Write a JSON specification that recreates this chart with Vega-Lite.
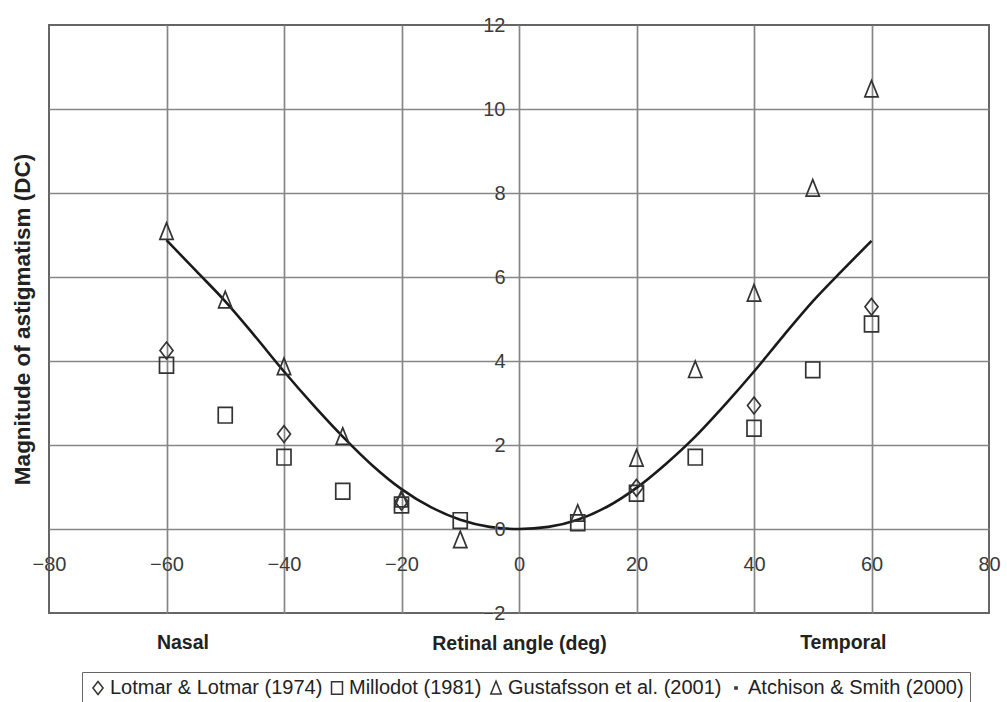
{
  "$schema": "https://vega.github.io/schema/vega-lite/v6.json",
  "width": 940,
  "height": 588,
  "autosize": {"type": "none"},
  "padding": {"left": 49, "top": 25, "right": 18, "bottom": 89},
  "background": "white",
  "config": {
    "font": "Liberation Sans",
    "view": {"stroke": "#666666", "strokeWidth": 2}
  },
  "datasets": {
    "curve": [
      {"angle": -60, "astig": 6.88}, {"angle": -55, "astig": 6.15}, {"angle": -50, "astig": 5.42},
      {"angle": -45, "astig": 4.6}, {"angle": -40, "astig": 3.75}, {"angle": -35, "astig": 2.95},
      {"angle": -30, "astig": 2.2}, {"angle": -25, "astig": 1.52}, {"angle": -20, "astig": 0.95},
      {"angle": -15, "astig": 0.52}, {"angle": -10, "astig": 0.22}, {"angle": -5, "astig": 0.05},
      {"angle": 0, "astig": 0}, {"angle": 5, "astig": 0.05}, {"angle": 10, "astig": 0.22},
      {"angle": 15, "astig": 0.53}, {"angle": 20, "astig": 0.98}, {"angle": 25, "astig": 1.55},
      {"angle": 30, "astig": 2.2}, {"angle": 35, "astig": 2.95}, {"angle": 40, "astig": 3.75},
      {"angle": 45, "astig": 4.6}, {"angle": 50, "astig": 5.42}, {"angle": 55, "astig": 6.15},
      {"angle": 60, "astig": 6.86}
    ],
    "points": [
      {"series": "Lotmar & Lotmar (1974)", "angle": -60, "astig": 4.25},
      {"series": "Lotmar & Lotmar (1974)", "angle": -40, "astig": 2.26},
      {"series": "Lotmar & Lotmar (1974)", "angle": -20, "astig": 0.65},
      {"series": "Lotmar & Lotmar (1974)", "angle": 20, "astig": 0.98},
      {"series": "Lotmar & Lotmar (1974)", "angle": 40, "astig": 2.94},
      {"series": "Lotmar & Lotmar (1974)", "angle": 60, "astig": 5.29},
      {"series": "Millodot (1981)", "angle": -60, "astig": 3.9},
      {"series": "Millodot (1981)", "angle": -50, "astig": 2.71},
      {"series": "Millodot (1981)", "angle": -40, "astig": 1.71},
      {"series": "Millodot (1981)", "angle": -30, "astig": 0.9},
      {"series": "Millodot (1981)", "angle": -20, "astig": 0.57},
      {"series": "Millodot (1981)", "angle": -10, "astig": 0.2},
      {"series": "Millodot (1981)", "angle": 10, "astig": 0.15},
      {"series": "Millodot (1981)", "angle": 20, "astig": 0.85},
      {"series": "Millodot (1981)", "angle": 30, "astig": 1.71},
      {"series": "Millodot (1981)", "angle": 40, "astig": 2.4},
      {"series": "Millodot (1981)", "angle": 50, "astig": 3.79},
      {"series": "Millodot (1981)", "angle": 60, "astig": 4.88},
      {"series": "Gustafsson et al. (2001)", "angle": -60, "astig": 7.08},
      {"series": "Gustafsson et al. (2001)", "angle": -50, "astig": 5.45},
      {"series": "Gustafsson et al. (2001)", "angle": -40, "astig": 3.86},
      {"series": "Gustafsson et al. (2001)", "angle": -30, "astig": 2.2},
      {"series": "Gustafsson et al. (2001)", "angle": -20, "astig": 0.71},
      {"series": "Gustafsson et al. (2001)", "angle": -10, "astig": -0.26},
      {"series": "Gustafsson et al. (2001)", "angle": 10, "astig": 0.37},
      {"series": "Gustafsson et al. (2001)", "angle": 20, "astig": 1.68},
      {"series": "Gustafsson et al. (2001)", "angle": 30, "astig": 3.79},
      {"series": "Gustafsson et al. (2001)", "angle": 40, "astig": 5.61},
      {"series": "Gustafsson et al. (2001)", "angle": 50, "astig": 8.11},
      {"series": "Gustafsson et al. (2001)", "angle": 60, "astig": 10.47}
    ],
    "sides": [
      {"label": "Nasal", "angle": -57.2, "astig": -2.71},
      {"label": "Temporal", "angle": 55.2, "astig": -2.71}
    ]
  },
  "layer": [
    {
      "data": {"name": "curve"},
      "mark": {"type": "line", "color": "#1a1a1a", "strokeWidth": 2.6, "interpolate": "monotone"},
      "encoding": {
        "x": {
          "field": "angle", "type": "quantitative",
          "scale": {"domain": [-80, 80], "nice": false, "zero": false},
          "axis": {
            "orient": "bottom", "values": [-60, -40, -20, 0, 20, 40, 60],
            "grid": true, "gridColor": "#868686", "gridWidth": 1.7,
            "labels": false, "ticks": false, "domain": false, "title": null, "zindex": 0
          }
        },
        "y": {
          "field": "astig", "type": "quantitative",
          "scale": {"domain": [-2, 12], "nice": false, "zero": false},
          "axis": {
            "orient": "left", "values": [0, 2, 4, 6, 8, 10],
            "grid": true, "gridColor": "#868686", "gridWidth": 1.7,
            "labels": false, "ticks": false, "domain": false, "title": null, "zindex": 0
          }
        }
      }
    },
    {
      "data": {"name": "points"},
      "mark": {"type": "point", "filled": false, "color": "#333333", "strokeWidth": 1.7, "size": 196, "opacity": 1},
      "encoding": {
        "x": {
          "field": "angle", "type": "quantitative",
          "axis": {
            "orient": "bottom", "offset": -84, "values": [-80, -60, -40, -20, 0, 20, 40, 60, 80],
            "grid": false, "ticks": false, "tickSize": 0, "domain": false, "title": null,
            "labelFontSize": 20, "labelColor": "white", "labelPadding": 25,
            "labelFlush": false, "labelOverlap": false, "labelBound": false, "zindex": 1,
            "encode": {"labels": {"update": {"stroke": {"value": "white"}, "strokeWidth": {"value": 8}, "strokeJoin": {"value": "round"}}}}
          }
        },
        "y": {
          "field": "astig", "type": "quantitative",
          "axis": {
            "orient": "left", "offset": -470, "values": [-2, 0, 2, 4, 6, 8, 10, 12],
            "grid": false, "ticks": false, "tickSize": 0, "domain": false, "title": null,
            "labelFontSize": 20, "labelColor": "white", "labelPadding": 14,
            "labelFlush": false, "labelOverlap": false, "labelBound": false, "zindex": 1,
            "encode": {"labels": {"update": {"stroke": {"value": "white"}, "strokeWidth": {"value": 8}, "strokeJoin": {"value": "round"}}}}
          }
        },
        "shape": {
          "field": "series", "type": "nominal",
          "scale": {
            "domain": ["Lotmar & Lotmar (1974)", "Millodot (1981)", "Gustafsson et al. (2001)", "Atchison & Smith (2000)"],
            "range": [
              "M0,-1.2L0.93,0L0,1.2L-0.93,0Z",
              "M-1,-1.12H1V1.12H-1Z",
              "M0,-1.25L0.95,1.1L-0.95,1.1Z",
              "M-0.2,-0.2H0.2V0.2H-0.2Z"
            ]
          },
          "legend": {
            "orient": "none", "legendX": 33, "legendY": 647,
            "direction": "horizontal", "title": null,
            "strokeColor": "#666666", "padding": 6, "fillColor": "white",
            "labelFontSize": 20, "labelColor": "#222222", "labelFont": "Liberation Sans",
            "symbolSize": 120, "symbolStrokeColor": "#333333", "symbolStrokeWidth": 1.5,
            "symbolFillColor": "transparent",
            "labelOffset": 2, "columnPadding": 4, "labelLimit": 400
          }
        }
      }
    },
    {
      "data": {"name": "sides"},
      "mark": {"type": "text", "font": "Liberation Sans", "fontWeight": "bold", "fontSize": 19.5, "color": "#222222", "align": "center", "baseline": "middle"},
      "encoding": {
        "x": {
          "field": "angle", "type": "quantitative",
          "axis": {
            "orient": "bottom", "offset": -84, "values": [-80, -60, -40, -20, 0, 20, 40, 60, 80],
            "grid": false, "ticks": false, "tickSize": 0, "domain": false,
            "labelFontSize": 20, "labelColor": "#3a3a3a", "labelPadding": 25,
            "labelFlush": false, "labelOverlap": false, "labelBound": false, "zindex": 2,
            "title": "Retinal angle (deg)", "titleY": 114, "titleBaseline": "middle",
            "titleFontSize": 19.5, "titleFontWeight": "bold", "titleColor": "#222222", "titleFont": "Liberation Sans"
          }
        },
        "y": {
          "field": "astig", "type": "quantitative",
          "axis": {
            "orient": "left", "offset": -470, "values": [-2, 0, 2, 4, 6, 8, 10, 12],
            "grid": false, "ticks": false, "tickSize": 0, "domain": false,
            "labelFontSize": 20, "labelColor": "#3a3a3a", "labelPadding": 14,
            "labelFlush": false, "labelOverlap": false, "labelBound": false, "zindex": 2,
            "title": "Magnitude of astigmatism (DC)", "titleX": -497, "titleY": 294,
            "titleAngle": 270, "titleBaseline": "middle", "titleAlign": "center",
            "titleFontSize": 22.5, "titleFontWeight": "bold", "titleColor": "#222222", "titleFont": "Liberation Sans"
          }
        },
        "text": {"field": "label", "type": "nominal"}
      }
    }
  ],
  "resolve": {"axis": {"x": "independent", "y": "independent"}}
}
